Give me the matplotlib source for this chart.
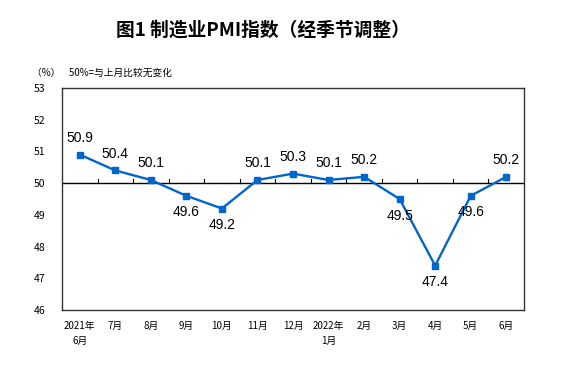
import matplotlib.pyplot as plt
import numpy as np

plt.rcParams['font.family'] = ['Noto Sans CJK SC', 'DejaVu Sans']

months = ['2021年\n6月', '7月', '8月', '9月', '10月', '11月', '12月',
          '2022年\n1月', '2月', '3月', '4月', '5月', '6月']
pmi = [50.9, 50.4, 50.1, 49.6, 49.2, 50.1, 50.3, 50.1, 50.2, 49.5, 47.4, 49.6, 50.2]
label_above = [True, True, True, False, False, True, True, True, True, False, False, False, True]

fig = plt.figure(figsize=(5.71, 3.71), dpi=100)
ax = fig.add_axes([0.1086, 0.1644, 0.8091, 0.5984])

x = np.arange(len(pmi))
ax.plot(x, pmi, color='#0066CC', lw=1.7, marker='s', ms=4.5, zorder=3)
ax.set_xlim(-0.5, len(pmi) - 0.5)
ax.set_ylim(46, 53)
ax.set_yticks(range(46, 54))
ax.tick_params(axis='y', length=0, labelsize=7.5, pad=12)
ax.set_xticks(x)
ax.set_xticklabels(months, fontsize=7, linespacing=1.6)
ax.tick_params(axis='x', length=0, pad=8)
for lbl in ax.get_xticklabels():
    lbl.set_verticalalignment('top')

# 50 reference line with small ticks at category boundaries
ax.axhline(50, color='black', lw=1, zorder=2)
for b in np.arange(0.5, len(pmi) - 0.5, 1):
    ax.plot([b, b], [50, 50.12], color='black', lw=0.8, zorder=2)

for sp in ax.spines.values():
    sp.set_linewidth(1)
    sp.set_color('#333333')

for xi, v, up in zip(x, pmi, label_above):
    ax.annotate(f'{v}', (xi, v), xytext=(0, 12 if up else -12), textcoords='offset points',
                ha='center', va='center', fontsize=10, family=['Liberation Sans'])

fig.text(0.46, 0.918, '图1 制造业PMI指数（经季节调整）', ha='center', va='center',
         fontsize=13.5, fontweight='bold')
fig.text(0.056, 0.805, '（%）    50%=与上月比较无变化', ha='left', va='center', fontsize=7)

fig.savefig('out.png', dpi=100)
